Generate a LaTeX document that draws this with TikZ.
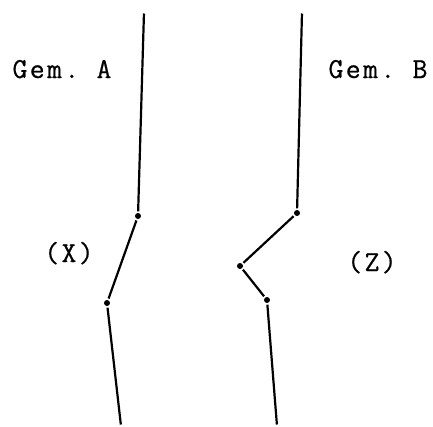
\documentclass[tikz,border=0pt]{standalone}
\usepackage{fontspec}
\setmonofont{Latin Modern Mono}[LetterSpace=8,FakeBold=0.6]
\begin{document}
\begin{tikzpicture}[x=1pt,y=-1pt,
  joint/.style={circle,fill=black,inner sep=0pt,minimum size=6pt},
  chrom/.style={line width=2.2pt,black,shorten >=1.5pt,shorten <=1.5pt},
  label/.style={font=\ttfamily\fontsize{29}{29}\selectfont,inner sep=0pt,anchor=base}]
\useasboundingbox (0,0) rectangle (433,426);
% Gem. A
\coordinate (atop) at (144,12);
\node[joint] (a1) at (138,216) {};
\node[joint] (a2) at (107,303) {};
\coordinate (abot) at (121,426);
\draw[chrom] (atop) -- (a1);
\draw[chrom] (a1) -- (a2);
\draw[chrom] (a2) -- (abot);
% Gem. B
\coordinate (btop) at (302,12);
\node[joint] (b1) at (297,213) {};
\node[joint] (b2) at (240,266) {};
\node[joint] (b3) at (267,300) {};
\coordinate (bbot) at (277,426);
\draw[chrom] (btop) -- (b1);
\draw[chrom] (b1) -- (b2);
\draw[chrom] (b2) -- (b3);
\draw[chrom] (b3) -- (bbot);
% labels
\node[label] (la) at (62,78) {Gem. A};
\node[label] (lb) at (378,78) {Gem. B};
\node[label] (lx) at (69,262) {(X)};
\node[label] (lz) at (372,271) {(Z)};
\end{tikzpicture}
\end{document}
